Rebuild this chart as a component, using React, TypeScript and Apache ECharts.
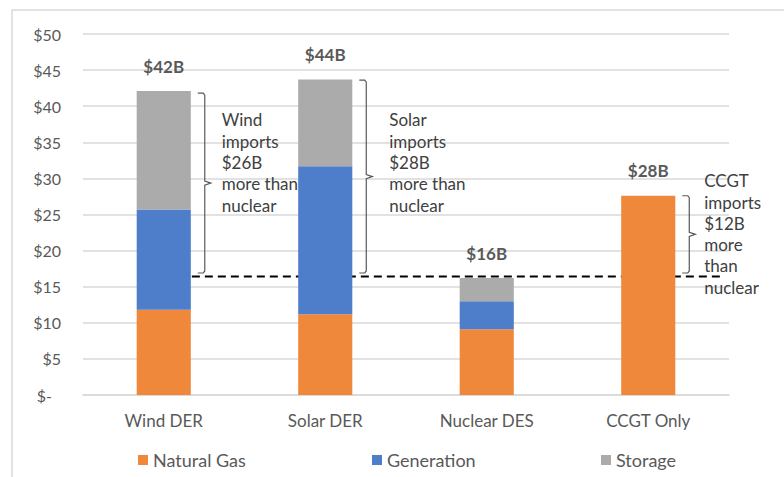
import React, { useEffect, useRef } from "react";
import * as echarts from "echarts";

// ---- data ----
const categories = ["Wind DER", "Solar DER", "Nuclear DES", "CCGT Only"];
const seriesNames = ["Natural Gas", "Generation", "Storage"];
const naturalGas = [11.8, 11.2, 9.1, 27.6];
const generation = [13.9, 20.5, 3.9, null];
const storage = [16.4, 12.0, 3.2, null];
const yTicks = [0, 5, 10, 15, 20, 25, 30, 35, 40, 45, 50];
const nuclearLine = 16.4;
// annotations: category index, bracket top, bracket bottom, text centre value
const bracketCats = [0, 1, 3];
const bracketTop = [41.8, 43.6, 27.6];
const bracketBottom = [16.9, 16.9, 16.9];
const bracketTextMid = [32.2, 32.2, 22.3];
const bracketTexts = [
  ["Wind", "imports", "$26B", "more than", "nuclear"],
  ["Solar", "imports", "$28B", "more than", "nuclear"],
  ["CCGT", "imports", "$12B", "more", "than", "nuclear"],
];

const colors = ["#EF883A", "#4E7DC9", "#ABABAB"];
const FONT = "Lato";
const TEXT_DX = [58, 64, 56];

export default function App() {
  const ref = useRef<HTMLDivElement>(null);
  useEffect(() => {
    if (!ref.current) return;
    const chart = echarts.init(ref.current, null, { renderer: "svg" });
    const totals = categories.map(
      (_, i) => (naturalGas[i] || 0) + (generation[i] || 0) + (storage[i] || 0)
    );
    const legendLeft = [138, 372, 601];
    const option: any = {
      animation: false,
      backgroundColor: "#ffffff",
      color: colors,
      grid: { left: 83, right: 55, top: 34, bottom: 82, containLabel: false },
      graphic: [
        {
          type: "rect",
          x: 12,
          y: 10,
          shape: { width: 800, height: 500 },
          style: { fill: "none", stroke: "#d9d9d9", lineWidth: 1.5 },
          silent: true,
        },
      ],
      legend: seriesNames.map((n, i) => ({
        data: [n],
        left: legendLeft[i],
        top: 451,
        padding: 0,
        itemWidth: 10,
        itemHeight: 10,
        icon: "rect",
        selectedMode: false,
        textStyle: { fontFamily: FONT, fontSize: 18, color: "#595959" },
      })),
      xAxis: {
        type: "category",
        data: categories,
        axisTick: { show: false },
        axisLine: { lineStyle: { color: "#d9d9d9", width: 1.5 } },
        axisLabel: { fontFamily: FONT, fontSize: 17, color: "#595959", margin: 17 },
      },
      yAxis: {
        type: "value",
        min: yTicks[0],
        max: yTicks[yTicks.length - 1],
        interval: yTicks[1] - yTicks[0],
        axisLine: { show: false },
        axisTick: { show: false },
        splitLine: { lineStyle: { color: "#d9d9d9", width: 1.5 } },
        axisLabel: {
          fontFamily: FONT,
          fontSize: 16,
          color: "#595959",
          margin: 22,
          formatter: (v: number) => (v === 0 ? "{z|$-}" : "$" + v),
          rich: {
            z: { fontFamily: FONT, fontSize: 16, color: "#595959", padding: [0, 9, 0, 0] },
          },
        },
      },
      series: [
        ...[naturalGas, generation, storage].map((d, i) => ({
          name: seriesNames[i],
          type: "bar",
          stack: "total",
          data: d,
          barCategoryGap: "66.5%",
          silent: true,
        })),
        {
          type: "custom",
          name: "totals",
          silent: true,
          clip: false,
          data: totals.map((t, i) => [i, t]),
          renderItem: (params: any, api: any) => {
            const p = api.coord([api.value(0), api.value(1)]);
            return {
              type: "text",
              style: {
                text: "$" + Math.round(api.value(1)) + "B",
                x: p[0],
                y: p[1] - 25,
                align: "center",
                verticalAlign: "middle",
                fontFamily: FONT,
                fontSize: 17,
                fontWeight: "bold",
                fill: "#595959",
              },
            };
          },
        },
        {
          type: "custom",
          name: "brackets",
          silent: true,
          clip: false,
          data: bracketCats.map((c, i) => [c, bracketTop[i], bracketBottom[i], bracketTextMid[i], i]),
          renderItem: (params: any, api: any) => {
            const cat = api.value(0);
            const idx = api.value(4);
            const pT = api.coord([cat, api.value(1)]);
            const pB = api.coord([cat, api.value(2)]);
            const pM = api.coord([cat, api.value(3)]);
            const bw = api.size([1, 0])[0];
            const x = pT[0] + bw * 0.254;
            const yT = pT[1];
            const yB = pB[1];
            const yM = (yT + yB) / 2;
            const pts = [
              [x - 7, yT],
              [x - 1.5, yT],
              [x, yT + 2],
              [x, yM - 2],
              [x + 6, yM],
              [x, yM + 2],
              [x, yB - 2],
              [x - 1.5, yB],
              [x - 7, yB],
            ];
            return {
              type: "group",
              children: [
                {
                  type: "polyline",
                  shape: { points: pts },
                  style: { fill: "none", stroke: "#595959", lineWidth: 1.2 },
                },
                {
                  type: "text",
                  style: {
                    text: bracketTexts[idx].join("\n"),
                    x: pT[0] + TEXT_DX[idx],
                    y: pM[1],
                    align: "left",
                    verticalAlign: "middle",
                    lineHeight: 21.3,
                    fontFamily: FONT,
                    fontSize: 17,
                    fill: "#404040",
                  },
                },
              ],
            };
          },
        },
        {
          type: "custom",
          name: "nuclearLine",
          silent: true,
          clip: false,
          data: [[0, nuclearLine]],
          renderItem: (params: any, api: any) => {
            const v = api.value(1);
            const p0 = api.coord([0, v]);
            const p3 = api.coord([categories.length - 1, v]);
            const bw = api.size([1, 0])[0];
            return {
              type: "line",
              shape: { x1: p0[0] - bw * 0.148, y1: p0[1], x2: p3[0] + bw * 0.446, y2: p3[1] },
              style: { stroke: "#000000", lineWidth: 2, lineDash: [8, 5] },
            };
          },
        },
      ],
    };
    chart.setOption(option);
    return () => chart.dispose();
  }, []);
  return (
    <div
      ref={ref}
      style={{ position: "fixed", left: 0, top: 0, width: 784, height: 477, background: "#fff" }}
    />
  );
}
